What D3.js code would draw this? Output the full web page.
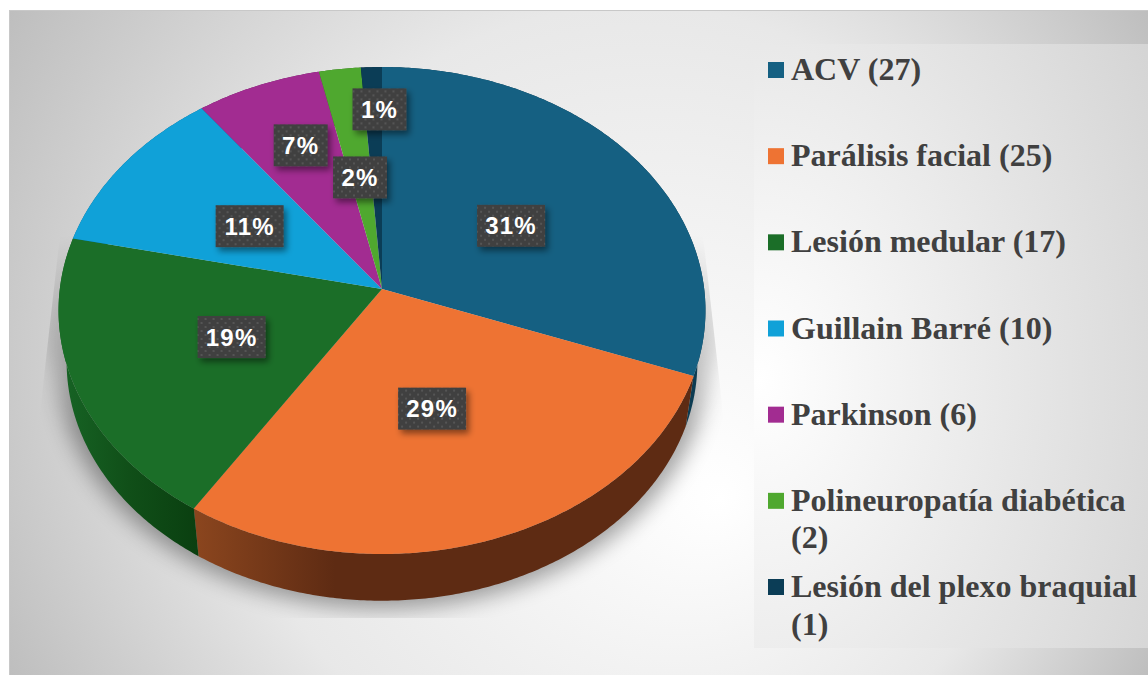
<!DOCTYPE html>
<html>
<head>
<meta charset="utf-8">
<script src="https://cdn.jsdelivr.net/npm/d3@7"></script>
<style>
	html, body { margin: 0; padding: 0; background: #fff; overflow: hidden; }
	svg { display: block; }
</style>
</head>
<body>
<div id="plot"></div>
<script>

///////////////////////////////////////////////////////////////////////

const categories = [ "ACV", "Parálisis facial", "Lesión medular", "Guillain Barré", "Parkinson", "Polineuropatía diabética", "Lesión del plexo braquial" ];
const values = [ 27, 25, 17, 10, 6, 2, 1 ];
const percent_labels = [ "31%", "29%", "19%", "11%", "7%", "2%", "1%" ];
const face_colors = [ "#156082", "#ee7333", "#1b6e28", "#10a1d8", "#a22c91", "#4fa82f", "#0b3d56" ];

// label boxes dragged off their slice in the original
const label_nudge = [ [ 0, 4 ], [ -3, 0 ], [ 1, 1 ], [ 0, 1 ], [ -17, -38 ], [ 0, 3 ], [ 3, -64 ] ];

///////////////////////////////////////////////////////////////////////

const width = 1148, height = 675;

const pie_x = 382, pie_y = 289;
const tilt = 0.0883;		// perspective of the disc
const pie_a = 322.2;
const pie_b = 241.6;
const depth = 52;
const base_sx = 0.975, base_sy = 0.98;

function project( angle, r )	{

	let u = r * Math.sin( angle );
	let v = r * Math.cos( angle );
	let w = 1 + tilt * v;
	return [ pie_a * u / w, -pie_b * v / w ];
}

function top_point( angle, r = 1 )	{

	let [ x, y ] = project( angle, r );
	return [ pie_x + x, pie_y + y ];
}

function base_point( angle, r = 1 )	{

	let [ x, y ] = project( angle, r );
	return [ pie_x + x * base_sx, pie_y + y * base_sy + depth ];
}

function arc_points( a0, a1, fn )	{

	let n = Math.max( 2, Math.ceil( ( a1 - a0 ) / 0.01 ) );
	let angle = d3.scaleLinear().domain( [ 0, n ] ).range( [ a0, a1 ] );
	return d3.range( n + 1 ).map( i => fn( angle( i ) ) );
}

///////////////////////////////////////////////////////////////////////

let svg = d3.select( "#plot" )
	.append( "svg" )
		.attr( "width", width )
		.attr( "height", height );

let defs = svg.append( "defs" );

function add_stops( grad, stops )	{

	stops.forEach( s => {
		grad.append( "stop" )
			.attr( "offset", s[ 0 ] )
			.attr( "stop-color", s[ 1 ] );
	} );
}

let panel_grad = defs.append( "radialGradient" )
	.attr( "id", "panel_grad" )
	.attr( "gradientUnits", "userSpaceOnUse" )
	.attr( "cx", 578 ).attr( "cy", 342 ).attr( "r", 665 )
	.attr( "fx", 720 ).attr( "fy", 500 );
add_stops( panel_grad, [ [ 0, "#ffffff" ], [ 0.6, "#e8e8e8" ], [ 1, "#bdbdbd" ] ] );

let legend_grad = defs.append( "radialGradient" )
	.attr( "id", "legend_grad" )
	.attr( "gradientUnits", "userSpaceOnUse" )
	.attr( "cx", 0 ).attr( "cy", 0 ).attr( "r", 1 )
	.attr( "gradientTransform", "translate(760,380) scale(460,650)" );
add_stops( legend_grad, [ [ 0, "#ffffff" ], [ 1, "#d4d4d4" ] ] );

let orange_wall = defs.append( "linearGradient" )
	.attr( "id", "wall_1" )
	.attr( "gradientUnits", "userSpaceOnUse" )
	.attr( "x1", 198 ).attr( "x2", 335 ).attr( "y1", 0 ).attr( "y2", 0 );
add_stops( orange_wall, [ [ 0, "#8a451e" ], [ 1, "#5e2b13" ] ] );

let green_wall = defs.append( "linearGradient" )
	.attr( "id", "wall_2" )
	.attr( "gradientUnits", "userSpaceOnUse" )
	.attr( "x1", 60 ).attr( "x2", 198 ).attr( "y1", 0 ).attr( "y2", 0 );
add_stops( green_wall, [ [ 0, "#176425" ], [ 0.5, "#104f18" ], [ 1, "#0a3f10" ] ] );

let dots = defs.append( "pattern" )
	.attr( "id", "dots" )
	.attr( "patternUnits", "userSpaceOnUse" )
	.attr( "width", 8 ).attr( "height", 8 );
dots.append( "rect" ).attr( "width", 8 ).attr( "height", 8 ).attr( "fill", "#404040" );
dots.append( "rect" ).attr( "x", 1 ).attr( "y", 1 ).attr( "width", 2 ).attr( "height", 2 ).attr( "fill", "#555555" );
dots.append( "rect" ).attr( "x", 5 ).attr( "y", 5 ).attr( "width", 2 ).attr( "height", 2 ).attr( "fill", "#555555" );

defs.append( "filter" )
	.attr( "id", "soft" )
	.attr( "x", "-20%" ).attr( "y", "-20%" ).attr( "width", "140%" ).attr( "height", "140%" )
	.append( "feGaussianBlur" ).attr( "stdDeviation", 11 );

defs.append( "filter" )
	.attr( "id", "box_shadow" )
	.attr( "x", "-30%" ).attr( "y", "-30%" ).attr( "width", "170%" ).attr( "height", "170%" )
	.append( "feDropShadow" )
		.attr( "dx", 3 ).attr( "dy", 4 ).attr( "stdDeviation", 3 )
		.attr( "flood-color", "#000" ).attr( "flood-opacity", 0.45 );

defs.append( "clipPath" )
	.attr( "id", "shadow_clip" )
	.append( "polygon" )
		.attr( "points", "60,235 38,430 38,618 725,618 725,430 703,235" );

// shadow dies out going up the sides of the pie
let shadow_fade = defs.append( "linearGradient" )
	.attr( "id", "shadow_fade" )
	.attr( "gradientUnits", "userSpaceOnUse" )
	.attr( "x1", 0 ).attr( "x2", 0 ).attr( "y1", 235 ).attr( "y2", 430 );
add_stops( shadow_fade, [ [ 0, "#000" ], [ 1, "#fff" ] ] );

defs.append( "mask" )
	.attr( "id", "shadow_mask" )
	.attr( "maskUnits", "userSpaceOnUse" )
	.attr( "x", 0 ).attr( "y", 0 ).attr( "width", width ).attr( "height", height )
	.append( "rect" )
		.attr( "width", width ).attr( "height", height )
		.attr( "fill", "url(#shadow_fade)" );

///////////////////////////////////////////////////////////////////////

// backgrounds

svg.append( "rect" )
	.attr( "x", 9.5 ).attr( "y", 10.5 )
	.attr( "width", width ).attr( "height", 680 )
	.attr( "fill", "url(#panel_grad)" )
	.attr( "stroke", "#c8c8c8" );

svg.append( "rect" )
	.attr( "x", 754 ).attr( "y", 44 )
	.attr( "width", 394 ).attr( "height", 604 )
	.attr( "fill", "url(#legend_grad)" );

///////////////////////////////////////////////////////////////////////

// pie

let slices = d3.pie().sort( null )( values );
let line = d3.line();

const TAU = 2 * Math.PI;

let shadow_g = svg.append( "g" )
	.attr( "clip-path", "url(#shadow_clip)" )
	.append( "g" )
		.attr( "mask", "url(#shadow_mask)" )
		.append( "g" )
			.attr( "opacity", 0.36 )
			.attr( "filter", "url(#soft)" );

shadow_g.append( "path" )
	.attr( "fill", "#000" )
	.attr( "d", line( arc_points( 0, TAU, a => {
		let [ x, y ] = project( a, 1 );
		return [ pie_x + x * base_sx * 1.03, pie_y + y * base_sy * 1.03 + depth ];
	} ) ) + "Z" );

shadow_g.append( "path" )
	.attr( "fill", "#000" )
	.attr( "d", line( arc_points( 0, TAU, a => {
		let [ x, y ] = project( a, 1 );
		return [ pie_x + x * 1.04, pie_y + y ];
	} ) ) + "Z" );

function wall_color( i )	{

	if( i == 1 ) return "url(#wall_1)";
	if( i == 2 ) return "url(#wall_2)";
	return d3.color( face_colors[ i ] ).darker( 1.3 ).formatHex();
}

svg.append( "g" )
	.selectAll( "path" )
	.data( slices )
	.join( "path" )
		.attr( "fill", ( d, i ) => wall_color( i ) )
		.attr( "d", d => {
			let a = arc_points( d.startAngle, d.endAngle, p => top_point( p ) );
			let b = arc_points( d.startAngle, d.endAngle, p => base_point( p ) ).reverse();
			return line( a.concat( b ) ) + "Z";
		} );

svg.append( "g" )
	.selectAll( "path" )
	.data( slices )
	.join( "path" )
		.attr( "fill", ( d, i ) => face_colors[ i ] )
		.attr( "d", d => {
			let a = arc_points( d.startAngle, d.endAngle, p => top_point( p ) );
			return line( [ [ pie_x, pie_y ] ].concat( a ) ) + "Z";
		} );

///////////////////////////////////////////////////////////////////////

// percent labels

let label_font = "'Liberation Sans', Arial, sans-serif";

let label_g = svg.append( "g" )
	.selectAll( "g" )
	.data( slices )
	.join( "g" )
		.attr( "transform", ( d, i ) => {
			let [ x, y ] = top_point( ( d.startAngle + d.endAngle ) / 2, 0.5 );
			return "translate(" + ( x + label_nudge[ i ][ 0 ] ) + "," + ( y + label_nudge[ i ][ 1 ] ) + ")";
		} );

label_g.append( "rect" )
	.attr( "x", ( d, i ) => percent_labels[ i ].length > 2 ? -34 : -27 )
	.attr( "y", -21 )
	.attr( "width", ( d, i ) => percent_labels[ i ].length > 2 ? 68 : 54 )
	.attr( "height", 42 )
	.attr( "fill", "url(#dots)" )
	.attr( "filter", "url(#box_shadow)" );

label_g.append( "text" )
	.attr( "text-anchor", "middle" )
	.attr( "y", 8.5 )
	.attr( "fill", "#fff" )
	.attr( "font-family", label_font )
	.attr( "font-weight", "bold" )
	.attr( "font-size", 24 )
	.attr( "letter-spacing", 1.2 )
	.text( ( d, i ) => percent_labels[ i ] );

///////////////////////////////////////////////////////////////////////

// legend

let legend_y = d3.scaleLinear().domain( [ 0, 6 ] ).range( [ 62, 579 ] );
const legend_max_width = 350;

let legend_g = svg.append( "g" )
	.selectAll( "g" )
	.data( categories )
	.join( "g" )
		.attr( "transform", ( d, i ) => "translate(768," + legend_y( i ) + ")" );

legend_g.append( "rect" )
	.attr( "width", 16 )
	.attr( "height", 16 )
	.attr( "fill", ( d, i ) => face_colors[ i ] );

legend_g.append( "text" )
	.attr( "x", 23 )
	.attr( "y", 18 )
	.attr( "fill", "#404040" )
	.attr( "font-family", "'Liberation Serif', 'Times New Roman', serif" )
	.attr( "font-weight", "bold" )
	.attr( "font-size", 32 )
	.each( function( d, i )	{

		let text = d3.select( this );
		let full = d + " (" + values[ i ] + ")";
		text.text( full );

		// wraps only the count onto a second line, as in the original
		if( this.getComputedTextLength() > legend_max_width )	{

			text.text( null );
			text.append( "tspan" ).attr( "x", 23 ).text( d );
			text.append( "tspan" ).attr( "x", 23 ).attr( "dy", 37.5 ).text( "(" + values[ i ] + ")" );
		}
	} );

</script>
</body>
</html>
